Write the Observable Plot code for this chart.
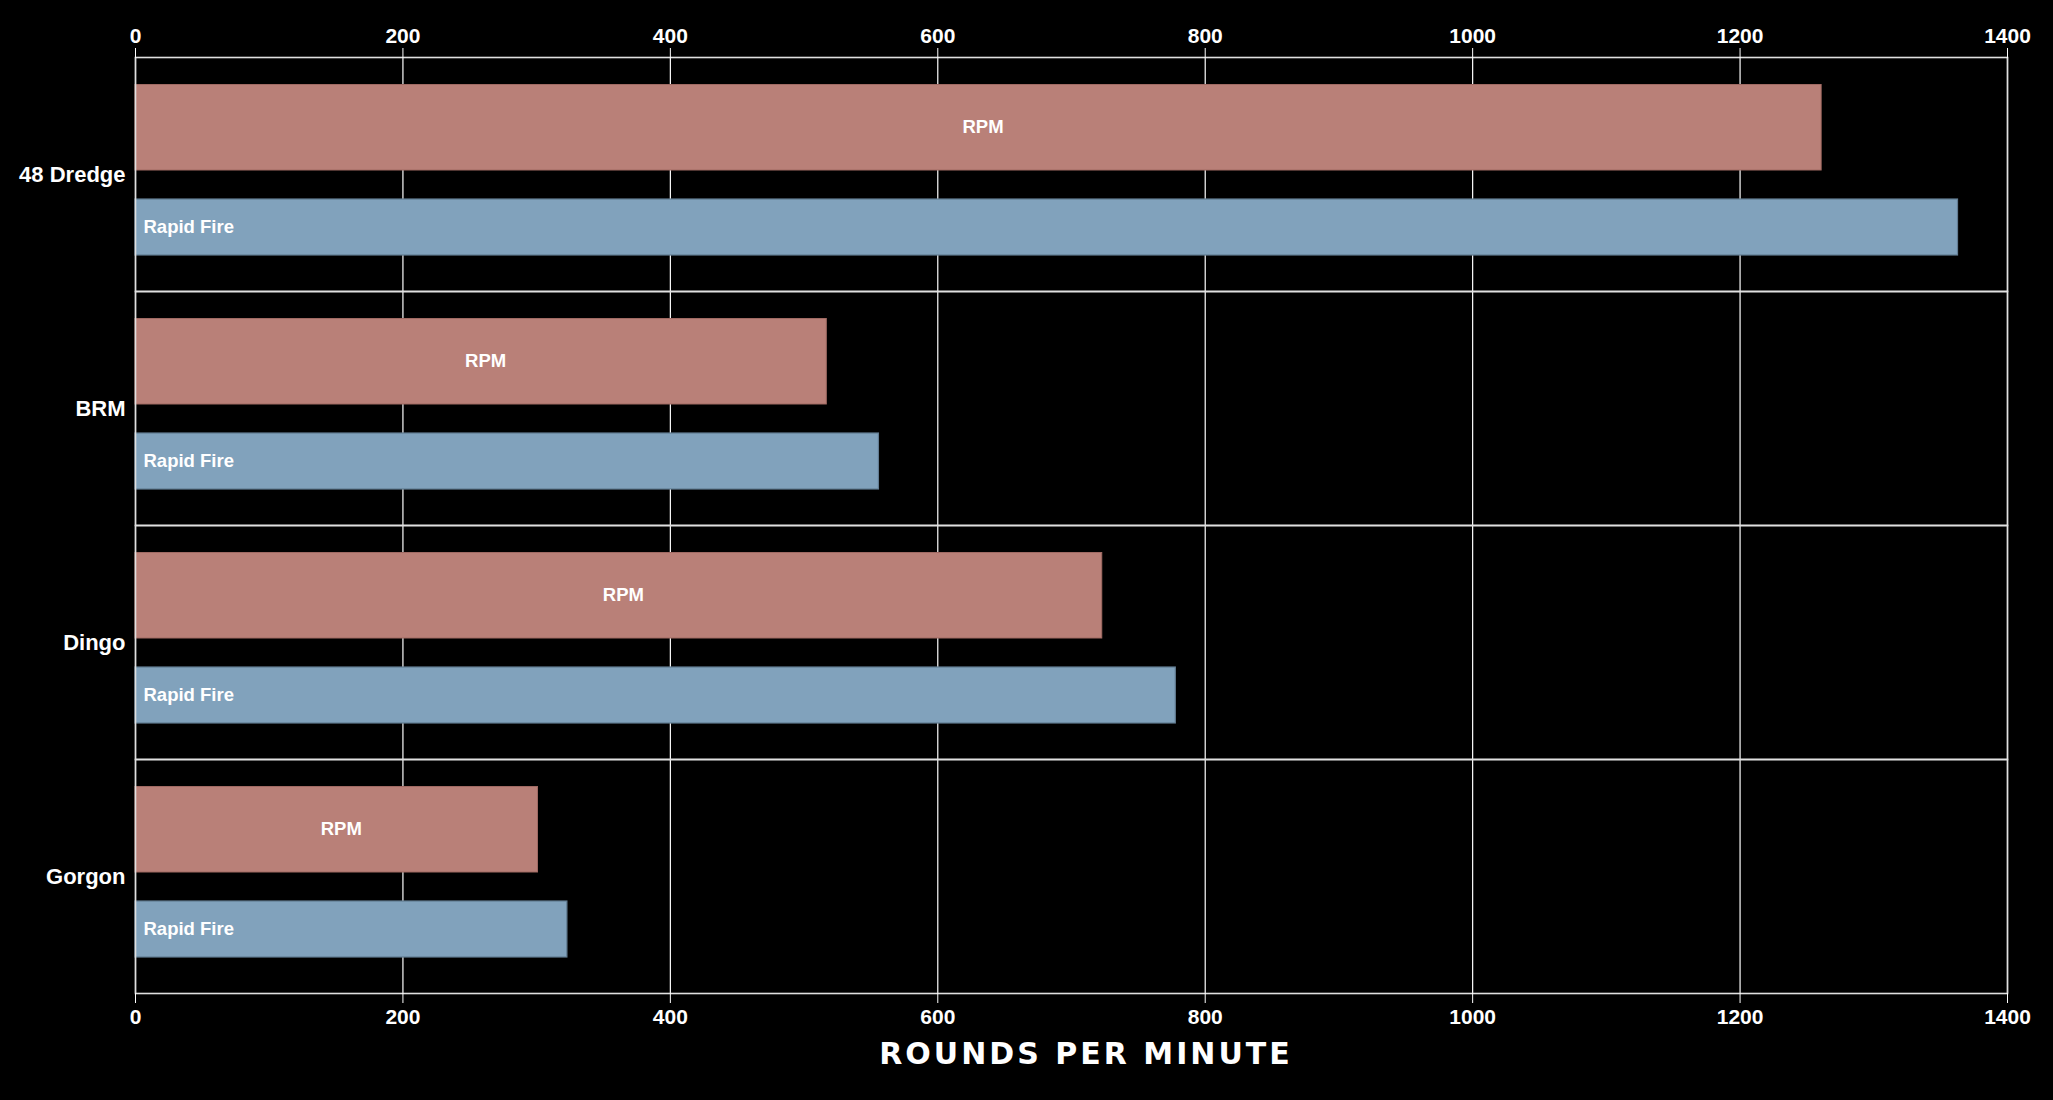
<!DOCTYPE html>
<html>
<head>
<meta charset="utf-8">
<script src="https://cdn.jsdelivr.net/npm/d3@7"></script>
<script src="https://cdn.jsdelivr.net/npm/@observablehq/plot@0.6"></script>
<style>
  html, body { margin: 0; padding: 0; background: #000; }
  #chart svg { display: block; }
  #title {
    font-family: "DejaVu Sans", sans-serif;
    font-weight: bold;
    font-size: 30px;
    line-height: 30px;
    letter-spacing: 3px;
    color: #fff;
    text-align: center;
    padding-left: 119px;
    margin-top: 9px;
  }
</style>
</head>
<body>
<div id="chart"></div>
<div id="title">ROUNDS PER MINUTE</div>
<script>
const weapons = ["48 Dredge", "BRM", "Dingo", "Gorgon"];
const rpm = [1261, 517, 723, 301];
const rapidFire = [1363, 556, 778, 323];
const xTicks = [0, 200, 400, 600, 800, 1000, 1200, 1400];
const seriesNames = ["RPM", "Rapid Fire"];

const rpmRows = weapons.map((w, i) => ({weapon: w, series: seriesNames[0], value: rpm[i]}));
const rfRows = weapons.map((w, i) => ({weapon: w, series: seriesNames[1], value: rapidFire[i]}));

const font = "'Liberation Sans', Arial, sans-serif";
const fmt = d => String(d);

const chart = Plot.plot({
  width: 2053,
  height: 1030,
  marginTop: 57,
  marginBottom: 37,
  marginLeft: 135,
  marginRight: 46,
  style: {background: "#000", color: "#fff", fontFamily: font},
  x: {domain: [0, 1400], ticks: xTicks, tickFormat: fmt},
  fy: {domain: weapons, padding: 0},
  marks: [
    Plot.gridX(xTicks, {stroke: "#fff", strokeOpacity: 1, strokeWidth: 1.2}),
    Plot.barX(rpmRows, {
      x: "value", fy: "weapon",
      fill: "#b98078", stroke: "#a06a63", strokeWidth: 1,
      insetTop: 27.5, insetBottom: 121
    }),
    Plot.barX(rfRows, {
      x: "value", fy: "weapon",
      fill: "#81a2bc", stroke: "#627c92", strokeWidth: 1.2,
      insetTop: 142, insetBottom: 36
    }),
    Plot.frame({stroke: "#e0e0e0", strokeWidth: 1.6}),
    Plot.text(rpmRows, {
      x: d => d.value / 2, fy: "weapon", text: "series",
      fill: "#fff", fontSize: 18.5, fontWeight: "bold", dx: 4.5, dy: -47
    }),
    Plot.text(rfRows, {
      x: 0, fy: "weapon", text: "series",
      fill: "#fff", fontSize: 18.5, fontWeight: "bold",
      textAnchor: "start", dx: 8, dy: 53
    }),
    Plot.axisX({anchor: "top", ticks: xTicks, tickFormat: fmt, tickSize: 10, tickPadding: 5,
      fontSize: 21, fontWeight: "bold", stroke: "#fff", label: null}),
    Plot.axisX({anchor: "bottom", ticks: xTicks, tickFormat: fmt, tickSize: 10, tickPadding: 6,
      fontSize: 21, fontWeight: "bold", stroke: "#fff", label: null}),
    Plot.axisFy({anchor: "left", tickSize: 0, tickPadding: 10,
      fontSize: 22, fontWeight: "bold", label: null})
  ]
});
document.getElementById("chart").appendChild(chart);
</script>
</body>
</html>
